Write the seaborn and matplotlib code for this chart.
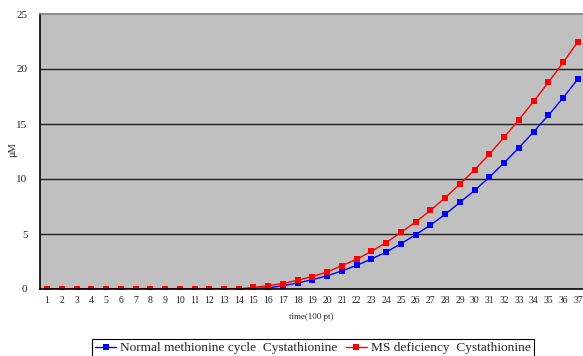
import matplotlib
matplotlib.use("Agg")
import matplotlib.pyplot as plt
import seaborn as sns
import pandas as pd
import numpy as np
from matplotlib.ticker import FixedLocator

time_points = list(range(1, 38))
normal = [0, 0, 0, 0, 0, 0, 0, 0, 0, 0, 0, 0, 0, 0, 0.05, 0.1, 0.3, 0.55, 0.85, 1.2,
          1.65, 2.15, 2.73, 3.36, 4.12, 4.94, 5.82, 6.79, 7.88, 8.97, 10.18, 11.48,
          12.85, 14.3, 15.8, 17.4, 19.1]
ms_def = [0, 0, 0, 0, 0, 0, 0, 0, 0, 0, 0, 0, 0, 0, 0.15, 0.3, 0.5, 0.8, 1.13, 1.55,
          2.13, 2.7, 3.43, 4.22, 5.15, 6.1, 7.15, 8.3, 9.55, 10.85, 12.27, 13.8,
          15.4, 17.06, 18.8, 20.6, 22.5]
series_names = ["Normal methionine cycle  Cystathionine", "MS deficiency  Cystathionine"]
series_colors = ["#0000FF", "#FF0000"]
y_ticks = [0, 5, 10, 15, 20, 25]

df = pd.DataFrame({
    "time": time_points * 2,
    "value": normal + ms_def,
    "series": [series_names[0]] * len(time_points) + [series_names[1]] * len(time_points),
})

sns.set_theme(style="white")
plt.rcParams["font.family"] = ["Liberation Serif", "DejaVu Serif"]

fig = plt.figure(figsize=(5.83, 3.56), dpi=100)
ax = fig.add_axes([40 / 583, 1 - 289 / 356, 1 - 40 / 583, (289 - 14) / 356])
ax.set_facecolor("#C0C0C0")

sns.lineplot(data=df, x="time", y="value", hue="series", palette=series_colors,
             marker="s", markersize=4.5, markeredgewidth=0, linewidth=1.0,
             ax=ax, legend=True)

ax.set_xlim(0.525, 37.34)
ax.set_ylim(0, 25)
ax.set_xticks(time_points)
ax.set_xticklabels([str(t) for t in time_points], fontsize=7)
ax.xaxis.set_minor_locator(FixedLocator([t + 0.5 for t in range(0, 38)]))
ax.tick_params(axis="x", which="major", length=0, pad=5)
ax.tick_params(axis="x", which="minor", direction="in", length=3, width=0.8, color="black")
ax.set_yticks(y_ticks)
ax.set_yticklabels([str(v) for v in y_ticks], fontsize=8)
ax.tick_params(axis="y", which="major", direction="out", length=3, width=0.8, color="black", pad=6)

for v in y_ticks[1:-1]:
    ax.axhline(v, color="#202020", linewidth=1.0, zorder=0.5)

for side in ["left", "bottom"]:
    ax.spines[side].set_color("black")
    ax.spines[side].set_linewidth(1.2)
ax.spines["top"].set_color("#808080")
ax.spines["top"].set_linewidth(1.2)
ax.spines["right"].set_visible(False)

ax.set_xlabel("time(100 pt)", fontsize=6.5, labelpad=6)
ax.set_ylabel("")
fig.text(13 / 583, 1 - 150 / 356, "\u03bcM", rotation=90, fontsize=7.5,
         ha="center", va="center")

handles, labels = ax.get_legend_handles_labels()
ax.get_legend().remove()
leg = fig.legend(handles, labels, loc="upper center", bbox_to_anchor=(0.537, 1 - 332 / 356),
                 ncol=2, fontsize=9.6, frameon=True, fancybox=False, edgecolor="black",
                 framealpha=1, borderpad=0.25, handlelength=1.6, handletextpad=0.3,
                 columnspacing=0.6)
leg.get_frame().set_linewidth(0.8)

fig.savefig("out.png", dpi=100)
